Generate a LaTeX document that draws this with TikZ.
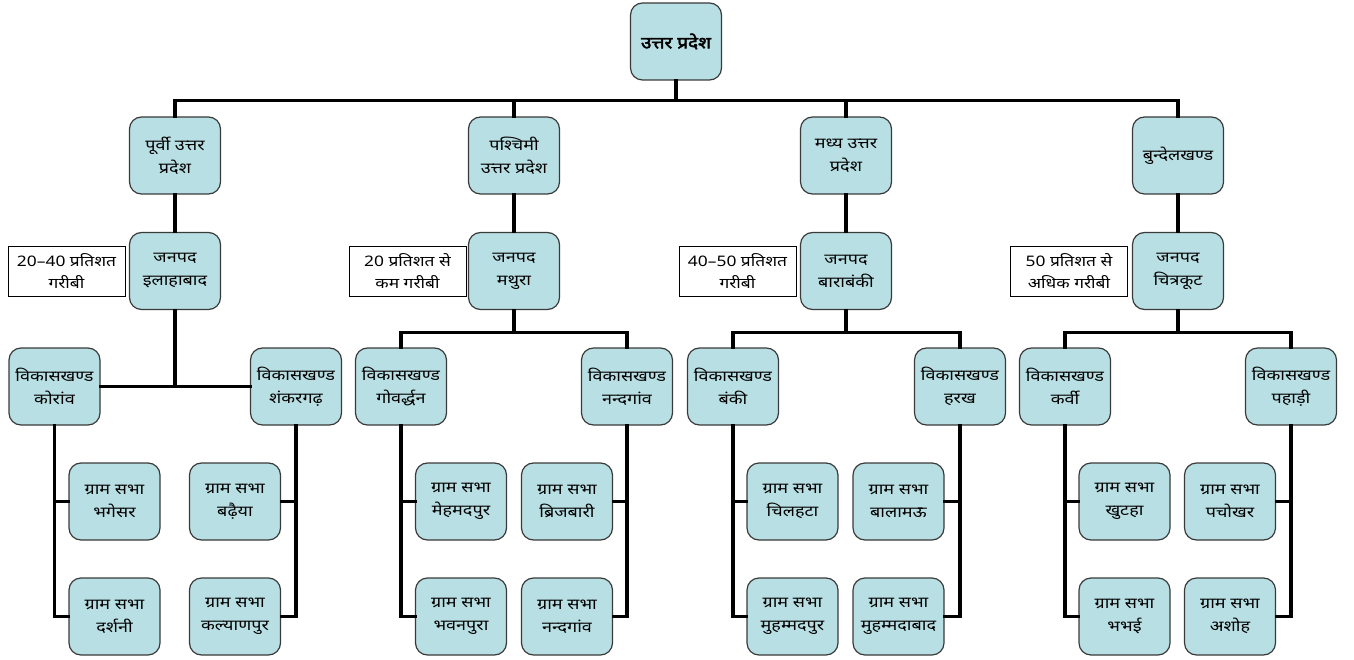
\documentclass[tikz,border=0pt]{standalone}
\usepackage{fontspec}
\newfontfamily\hindi[Script=Devanagari,FakeStretch=1.2]{Noto Sans}
\newfontfamily\hindibold[Script=Devanagari,FakeStretch=1.15,FakeBold=2.5]{Noto Sans}
\definecolor{boxfill}{HTML}{B8DFE3}
\definecolor{boxline}{HTML}{3A3A3A}
\tikzset{
  unit/.style={rectangle, rounded corners=12pt, fill=boxfill, draw=boxline, line width=1.2pt,
    minimum width=91pt, minimum height=77pt, inner sep=1pt, align=center,
    font=\hindi\fontsize{15}{23}\selectfont},
  note/.style={rectangle, fill=white, draw=black, line width=1pt,
    minimum width=117pt, minimum height=49pt, inner sep=1pt, align=center,
    font=\hindi\fontsize{14.5}{22}\selectfont},
  conn/.style={line width=3.2pt, line join=miter, line cap=rect}
}
\begin{document}
\begin{tikzpicture}[x=1pt,y=-1pt]
\useasboundingbox (0,0) rectangle (1354,660);
% top
\node[unit, font=\hindibold\fontsize{16.5}{23}\selectfont] (top) at (676,41.5) {उत्तर प्रदेश};
% regions
\node[unit] (r1) at (175,155.5) {पूर्वी उत्तर\\प्रदेश};
\node[unit] (r2) at (514,155.5) {पश्चिमी\\उत्तर प्रदेश};
\node[unit] (r3) at (846,155.5) {मध्य उत्तर\\प्रदेश};
\node[unit] (r4) at (1178,155.5) {बुन्देलखण्ड};
% janpad
\node[unit] (j1) at (175,271) {जनपद\\इलाहाबाद};
\node[unit] (j2) at (514,271) {जनपद\\मथुरा};
\node[unit] (j3) at (846,271) {जनपद\\बाराबंकी};
\node[unit] (j4) at (1178,271) {जनपद\\चित्रकूट};
% notes
\node[note] (n1) at (66.5,271.5) {20–40 प्रतिशत\\गरीबी};
\node[note] (n2) at (407.5,271.5) {20 प्रतिशत से\\कम गरीबी};
\node[note] (n3) at (737.5,271.5) {40–50 प्रतिशत\\गरीबी};
\node[note] (n4) at (1069,271.5) {50 प्रतिशत से\\अधिक गरीबी};
% vikaskhand
\node[unit] (v11) at (54.5,386.5) {विकासखण्ड\\कोरांव};
\node[unit] (v12) at (296,386.5) {विकासखण्ड\\शंकरगढ़};
\node[unit] (v21) at (401,386.5) {विकासखण्ड\\गोवर्द्धन};
\node[unit] (v22) at (627,386.5) {विकासखण्ड\\नन्दगांव};
\node[unit] (v31) at (733,386.5) {विकासखण्ड\\बंकी};
\node[unit] (v32) at (960,386.5) {विकासखण्ड\\हरख};
\node[unit] (v41) at (1065,386.5) {विकासखण्ड\\कर्वी};
\node[unit] (v42) at (1291,386.5) {विकासखण्ड\\पहाड़ी};
% gram sabha
\node[unit] (g11a) at (114.5,501.5) {ग्राम सभा\\भगेसर};
\node[unit] (g11b) at (114.5,616.5) {ग्राम सभा\\दर्शनी};
\node[unit] (g12a) at (235,501.5) {ग्राम सभा\\बढ़ैया};
\node[unit] (g12b) at (235,616.5) {ग्राम सभा\\कल्याणपुर};
\node[unit] (g21a) at (461,501.5) {ग्राम सभा\\मेहमदपुर};
\node[unit] (g21b) at (461,616.5) {ग्राम सभा\\भवनपुरा};
\node[unit] (g22a) at (567,501.5) {ग्राम सभा\\ब्रिजबारी};
\node[unit] (g22b) at (567,616.5) {ग्राम सभा\\नन्दगांव};
\node[unit] (g31a) at (792.5,501.5) {ग्राम सभा\\चिलहटा};
\node[unit] (g31b) at (792.5,616.5) {ग्राम सभा\\मुहम्मदपुर};
\node[unit] (g32a) at (898.5,501.5) {ग्राम सभा\\बालामऊ};
\node[unit] (g32b) at (898.5,616.5) {ग्राम सभा\\मुहम्मदाबाद};
\node[unit] (g41a) at (1124.5,501.5) {ग्राम सभा\\खुटहा};
\node[unit] (g41b) at (1124.5,616.5) {ग्राम सभा\\भभई};
\node[unit] (g42a) at (1230,501.5) {ग्राम सभा\\पचोखर};
\node[unit] (g42b) at (1230,616.5) {ग्राम सभा\\अशोह};
% connectors: top to regions
\foreach \r in {r1,r2,r3,r4}
  \draw[conn] (top.south) -- ++(0,20) -| (\r.north);
% region to janpad
\foreach \i in {1,2,3,4}
  \draw[conn] (r\i.south) -- (j\i.north);
% janpad 1 to vikaskhand
\draw[conn] (v11.east) -- (v12.west);
\draw[conn] (j1.south) -- (j1.south |- v11.east);
% janpad 2-4 to vikaskhand
\foreach \i in {2,3,4}{
  \draw[conn] (j\i.south) -- ++(0,22) -| (v\i1.north);
  \draw[conn] (j\i.south) -- ++(0,22) -| (v\i2.north);
}
% vikaskhand to gram sabha
\foreach \i in {1,2,3,4}{
  \draw[conn] (v\i1.south) |- (g\i1a.west);
  \draw[conn] (v\i1.south) |- (g\i1b.west);
  \draw[conn] (v\i2.south) |- (g\i2a.east);
  \draw[conn] (v\i2.south) |- (g\i2b.east);
}
\end{tikzpicture}
\end{document}
